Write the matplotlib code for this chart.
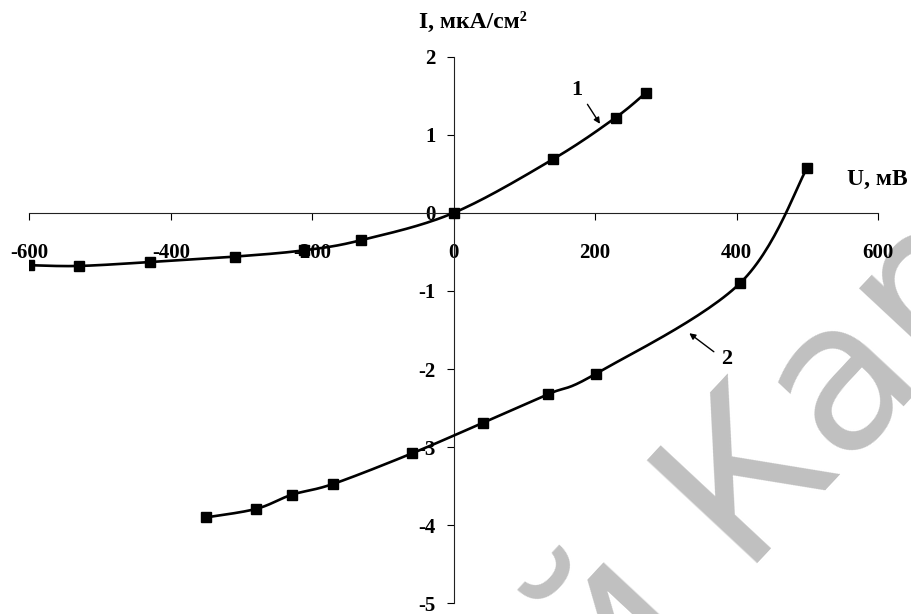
import numpy as np
import matplotlib
matplotlib.use('Agg')
import matplotlib.pyplot as plt

# curve 1
u1 = [-600, -530, -429, -309, -212, -131, 0, 141, 229, 272]
i1 = [-0.67, -0.68, -0.63, -0.56, -0.48, -0.35, 0.0, 0.69, 1.22, 1.54]

# curve 2
u2 = [-350, -279, -229, -170, -59, 41, 134, 201, 405, 500]
i2 = [-3.90, -3.79, -3.61, -3.47, -3.08, -2.69, -2.32, -2.06, -0.90, 0.58]

x_ticks = [-600, -400, -200, 0, 200, 400, 600]
y_ticks = [-5, -4, -3, -2, -1, 0, 1, 2]

plt.rcParams['font.family'] = ['Liberation Serif', 'DejaVu Serif']
plt.rcParams['font.weight'] = 'bold'
plt.rcParams['axes.unicode_minus'] = False


def smooth(xs, ys, n=30):
    # excel-like smoothed line (bezier through points, catmull-rom tangents)
    p = np.column_stack([xs, ys]).astype(float)
    ext = np.vstack([p[0], p, p[-1]])
    out = []
    t = np.linspace(0, 1, n)[:, None]
    for k in range(len(p) - 1):
        p0, p3 = ext[k + 1], ext[k + 2]
        c1 = p0 + (ext[k + 2] - ext[k]) / 6
        c2 = p3 - (ext[k + 3] - ext[k + 1]) / 6
        seg = ((1 - t) ** 3) * p0 + 3 * ((1 - t) ** 2) * t * c1 + 3 * (1 - t) * t ** 2 * c2 + t ** 3 * p3
        out.append(seg)
    out = np.vstack(out)
    return out[:, 0], out[:, 1]


fig = plt.figure(figsize=(9.11, 6.14), dpi=100)
ax = fig.add_axes([0.0322, 0.0174, 0.9316, 0.8903])
ax.set_xlim(-600, 600)
ax.set_ylim(-5, 2)

# watermark, behind everything
ax.text(0.797, 0.165, 'ий Кар', transform=fig.transFigure, fontsize=148, color='#c0c0c0',
        rotation=47, family='DejaVu Sans', fontweight='normal', ha='center', va='center',
        zorder=0, clip_on=False)

for xs, ys in [(u1, i1), (u2, i2)]:
    sx, sy = smooth(xs, ys)
    ax.plot(sx, sy, color='black', lw=1.9, zorder=3)
    ax.plot(xs, ys, 's', color='black', ms=7, zorder=4)

ax.spines['left'].set_position(('data', 0))
ax.spines['bottom'].set_position(('data', 0))
ax.spines['top'].set_visible(False)
ax.spines['right'].set_visible(False)
for s in ['left', 'bottom']:
    ax.spines[s].set_linewidth(0.8)
    ax.spines[s].set_color('#222222')

ax.set_xticks(x_ticks)
ax.set_yticks(y_ticks)
ax.tick_params(axis='x', direction='out', length=5, width=0.8, pad=17, labelsize=15)
ax.tick_params(axis='y', direction='out', length=5, width=0.8, pad=8, labelsize=15)
for lab in ax.get_xticklabels() + ax.get_yticklabels():
    lab.set_fontweight('bold')

ax.text(473 / 911, 1 - 22 / 614, 'I, мкА/см²', transform=fig.transFigure, fontsize=17,
        fontweight='bold', ha='center', va='center', clip_on=False)
ax.text(877 / 911, 1 - 179 / 614, 'U, мВ', transform=fig.transFigure, fontsize=17,
        fontweight='bold', ha='center', va='center', clip_on=False)

arrow = dict(arrowstyle='-|>', color='black', lw=1, mutation_scale=9)
ax.annotate('', xy=(209, 1.11), xytext=(187, 1.42), arrowprops=arrow, zorder=5)
ax.text(174, 1.57, '1', fontsize=16, fontweight='bold', ha='center', va='center', zorder=5)
ax.annotate('', xy=(330, -1.52), xytext=(371, -1.80), arrowprops=arrow, zorder=5)
ax.text(386, -1.87, '2', fontsize=16, fontweight='bold', ha='center', va='center', zorder=5)

plt.savefig('out.png', dpi=100)
